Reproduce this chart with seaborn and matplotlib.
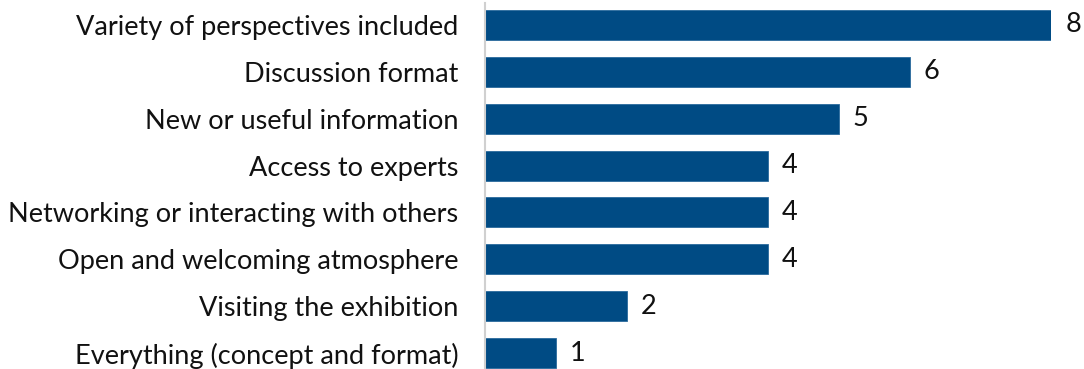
import matplotlib
matplotlib.use("Agg")
import matplotlib.pyplot as plt
import seaborn as sns
import pandas as pd

categories = [
    "Variety of perspectives included",
    "Discussion format",
    "New or useful information",
    "Access to experts",
    "Networking or interacting with others",
    "Open and welcoming atmosphere",
    "Visiting the exhibition",
    "Everything (concept and format)",
]
values = [8, 6, 5, 4, 4, 4, 2, 1]

df = pd.DataFrame({"category": categories, "value": values})

sns.set_style("white")
plt.rcParams["font.family"] = ["Lato", "DejaVu Sans"]

fig = plt.figure(figsize=(10.84, 3.69), dpi=100)
W, H = 1084, 369
ax = fig.add_axes([485 / W, 0, (1051 - 485) / W, (369 - 3) / H])

sns.barplot(data=df, x="value", y="category", orient="h", color="#004b84",
            width=0.64, saturation=1, ax=ax, edgecolor="#2a6a9c", linewidth=0.6)

ax.set_xlim(0, 8)
ax.set_ylim(7.341, -0.469)
ax.set_xlabel("")
ax.set_ylabel("")
ax.set_xticks([])
for s in ["top", "right", "bottom"]:
    ax.spines[s].set_visible(False)
ax.spines["left"].set_color("#d0d0d0")
ax.spines["left"].set_linewidth(1.5)
ax.tick_params(axis="y", length=0, pad=19, labelsize=19.5, labelcolor="#111111")

for i, v in enumerate(values):
    ax.text(v + 0.2, i, str(v), va="center", ha="left", fontsize=19.5,
            color="#111111", clip_on=False)

fig.savefig("out.png", dpi=100)
